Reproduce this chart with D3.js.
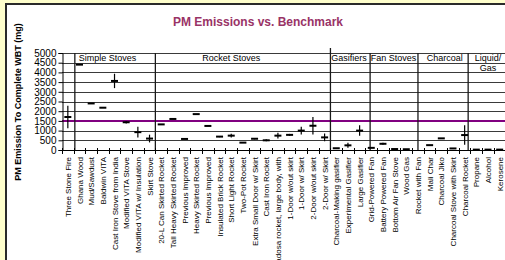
<!DOCTYPE html>
<html lang="en">
	<head>
		<meta charset="utf-8">
		<title>PM Emissions vs. Benchmark</title>
		<script type="text/javascript" src="https://cdn.jsdelivr.net/npm/d3@7"></script>
		<style type="text/css">
			body { margin: 0; background: #ffffcc; }
			svg { display: block; }
			text { font-family: "Liberation Sans", Arial, sans-serif; }
		</style>
	</head>
	<body>
		<script type="text/javascript">

			//Stove names along the bottom
			var stoves = [ "Three  Stone  Fire", "Ghana  Wood", "Mud/Sawdust", "Baldwin  VITA",
						   "Cast  Iron  Stove  from  India", "Modified  VITA  Stove", "Modified  VITA  w/  Insulation", "Skirt  Stove",
						   "20-L  Can  Skirted  Rocket", "Tall  Heavy  Skirted  Rocket", "Previous  Improved", "Heavy  Skirted  Rocket",
						   "Previous  Improved", "Insulated  Brick  Rocket", "Short  Light  Rocket", "Two-Pot  Rocket",
						   "Extra  Small  Door  w/  Skirt", "Cast  Iron  Rocket", "Ceramic  Mandadosa  rocket,  large  body,  with",
						   "1-Door  w/out  skirt", "1-Door  w/  Skirt", "2-Door  w/out  skirt", "2-Door  w/  Skirt",
						   "Charcoal-Making  gasifier", "Experimental  Gasifier", "Large  Gasifier",
						   "Grid-Powered  Fan", "Battery  Powered  Fan", "Bottom  Air  Fan  Stove", "Wood  Gas",
						   "Rocket  with  Fan", "Mali  Char", "Charcoal  Jiko", "Charcoal  Stove  with  Skirt", "Charcoal  Rocket",
						   "Propane", "Alcohol", "Kerosene" ];

			//Mean PM (mg) and error (+/-) for each stove, null = no value
			var pm = [ 1700, 4400, 2400, 2180, 3560, 1430, 920, 590,
					   1320, 1600, 570, 1850, 1240, 690, 740, 380, 580, 500, 740, 780, 1000, 1250, 650,
					   90, 240, 1000,
					   110, 320, 50, 40,
					   null, 250, 600, 80, 770,
					   20, 20, 20 ];
			var pmErr = [ 580, 0, 0, 0, 370, 60, 280, 200,
						  0, 0, 0, 0, 0, 30, 100, 0, 30, 50, 150, 50, 200, 450, 200,
						  0, 130, 270,
						  0, 50, 0, 0,
						  0, 0, 0, 0, 500,
						  0, 30, 0 ];

			var benchmark = 1500;
			var yTicks = d3.range(0, 5001, 500);

			//Stove groups, edges and label spots in category units
			var groupNames = [ "Simple Stoves", "Rocket Stoves", "Gasifiers", "Fan Stoves", "Charcoal", "Liquid/|Gas" ];
			var groupEdges = [ 1.1, 8, 23, 26.4, 30.5, 34.8 ];
			var groupLabelAt = [ 3.9, 14.5, 24.6, 28.4, 32.8, 36.5 ];

			//Width and height
			var w = 505;
			var h = 260;
			var pLeft = 62, pRight = 505.5, pTop = 53, pBottom = 150;

			var xScale = d3.scaleBand()
							.domain(d3.range(stoves.length))
							.range([pLeft, pRight]);

			//same axis, but continuous, for the group lines
			var xPos = d3.scaleLinear()
							.domain([0, stoves.length])
							.range([pLeft, pRight]);

			var yScale = d3.scaleLinear()
							.domain([0, 5000])
							.range([pBottom, pTop]);

			//Create SVG element
			var svg = d3.select("body")
						.append("svg")
						.attr("width", w)
						.attr("height", h);

			//Chart area with border
			svg.append("rect")
			   .attr("x", 6)
			   .attr("y", 4)
			   .attr("width", w)
			   .attr("height", h)
			   .attr("fill", "white")
			   .attr("stroke", "#2a2a2a")
			   .attr("stroke-width", 2);

			//Title
			svg.append("text")
			   .attr("x", 258)
			   .attr("y", 26)
			   .attr("text-anchor", "middle")
			   .attr("font-size", "12px")
			   .attr("font-weight", "bold")
			   .attr("fill", "#993366")
			   .text("PM Emissions vs. Benchmark");

			//Y title
			svg.append("text")
			   .attr("transform", "translate(21,102) rotate(-90)")
			   .attr("text-anchor", "middle")
			   .attr("font-size", "9px")
			   .attr("font-weight", "bold")
			   .text("PM Emission To Complete WBT (mg)");

			//Gridlines
			svg.selectAll("line.grid")
			   .data(yTicks.slice(1))
			   .enter()
			   .append("line")
			   .attr("class", "grid")
			   .attr("x1", pLeft)
			   .attr("x2", pRight)
			   .attr("y1", function(d) { return Math.round(yScale(d)) + 0.5; })
			   .attr("y2", function(d) { return Math.round(yScale(d)) + 0.5; })
			   .attr("stroke", "#3a3a3a")
			   .attr("stroke-width", 1);

			//Benchmark line
			svg.append("line")
			   .attr("x1", pLeft)
			   .attr("x2", pRight)
			   .attr("y1", yScale(benchmark))
			   .attr("y2", yScale(benchmark))
			   .attr("stroke", "#800080")
			   .attr("stroke-width", 2);

			//Group dividers and names
			svg.selectAll("line.group")
			   .data(groupEdges)
			   .enter()
			   .append("line")
			   .attr("class", "group")
			   .attr("x1", function(d) { return xPos(d); })
			   .attr("x2", function(d) { return xPos(d); })
			   .attr("y1", function(d, i) { return i == 2 ? pTop - 5 : pTop; })
			   .attr("y2", pBottom + 1)
			   .attr("stroke", "#1a1a1a")
			   .attr("stroke-width", 1.3);

			var groupText = svg.selectAll("text.group")
			   .data(groupNames)
			   .enter()
			   .append("text")
			   .attr("class", "group")
			   .attr("text-anchor", "middle")
			   .attr("font-size", "9px");

			groupText.selectAll("tspan")
			   .data(function(d, i) {
					return d.split("|").map(function(s) { return { s: s, x: xPos(groupLabelAt[i]) }; });
			   })
			   .enter()
			   .append("tspan")
			   .attr("x", function(d) { return d.x; })
			   .attr("y", function(d, i) { return 61 + i * 10; })
			   .text(function(d) { return d.s; });

			//Y axis
			var yAxis = d3.axisLeft(yScale)
							.tickValues(yTicks)
							.tickFormat(d3.format("d"))
							.tickSize(4)
							.tickPadding(2);

			var gy = svg.append("g")
			   .attr("transform", "translate(" + (pLeft + 0.5) + ",0)")
			   .call(yAxis);
			gy.selectAll("text").attr("font-size", "10px").attr("fill", "#000");
			gy.selectAll("line, path").attr("stroke", "#000");

			//X axis line and ticks between categories
			svg.append("line")
			   .attr("x1", pLeft)
			   .attr("x2", pRight)
			   .attr("y1", pBottom + 0.5)
			   .attr("y2", pBottom + 0.5)
			   .attr("stroke", "#000")
			   .attr("stroke-width", 1.2);

			svg.selectAll("line.xtick")
			   .data(d3.range(stoves.length + 1))
			   .enter()
			   .append("line")
			   .attr("class", "xtick")
			   .attr("x1", function(d) { return Math.round(xPos(d)) + 0.5; })
			   .attr("x2", function(d) { return Math.round(xPos(d)) + 0.5; })
			   .attr("y1", pBottom - 2)
			   .attr("y2", pBottom + 4)
			   .attr("stroke", "#000");

			//X labels
			svg.selectAll("text.xlabel")
			   .data(stoves)
			   .enter()
			   .append("text")
			   .attr("class", "xlabel")
			   .attr("text-anchor", "end")
			   .attr("font-size", "8px")
			   .attr("transform", function(d, i) {
					return "translate(" + (xScale(i) + xScale.bandwidth() / 2 + 3) + "," + (pBottom + 7) + ") rotate(-90)";
			   })
			   .text(function(d) { return d.replace(/  /g, " "); });

			//Points with error bars
			var points = d3.range(stoves.length).filter(function(i) { return pm[i] !== null; });

			svg.selectAll("line.err")
			   .data(points.filter(function(i) { return pmErr[i] > 0; }))
			   .enter()
			   .append("line")
			   .attr("class", "err")
			   .attr("x1", function(i) { return xScale(i) + xScale.bandwidth() / 2; })
			   .attr("x2", function(i) { return xScale(i) + xScale.bandwidth() / 2; })
			   .attr("y1", function(i) { return yScale(pm[i] + pmErr[i]); })
			   .attr("y2", function(i) { return yScale(Math.max(0, pm[i] - pmErr[i])); })
			   .attr("stroke", "#000")
			   .attr("stroke-width", 1.2);

			svg.selectAll("line.mark")
			   .data(points)
			   .enter()
			   .append("line")
			   .attr("class", "mark")
			   .attr("x1", function(i) { return xScale(i) + xScale.bandwidth() / 2 - 3.5; })
			   .attr("x2", function(i) { return xScale(i) + xScale.bandwidth() / 2 + 3.5; })
			   .attr("y1", function(i) { return yScale(pm[i]); })
			   .attr("y2", function(i) { return yScale(pm[i]); })
			   .attr("stroke", "#000")
			   .attr("stroke-width", 2);

		</script>
	</body>
</html>
